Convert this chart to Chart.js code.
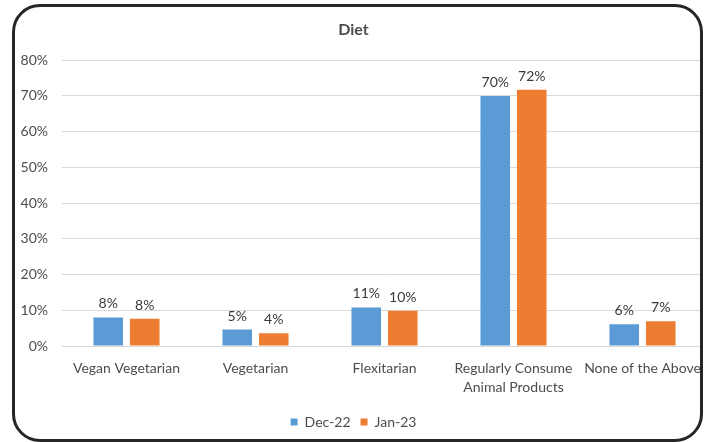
<!DOCTYPE html>
<html>
<head>
<meta charset="utf-8">
<script src="https://cdn.jsdelivr.net/npm/chart.js@4"></script>
<style>
  html, body { margin: 0; padding: 0; background: #fff; }
  #frame {
    position: absolute; left: 12px; top: 4px; width: 691px; height: 438px;
    box-sizing: border-box; border: 3px solid #262626; border-radius: 28px;
    overflow: hidden; background: #fff;
  }
  #dietChart { position: absolute; left: -15px; top: -7px; }
</style>
</head>
<body>
<div id="frame">
  <canvas id="dietChart" width="709" height="442"></canvas>
</div>
<script>
// Diet survey, share of respondents (%)
const categories = ['Vegan Vegetarian', 'Vegetarian', 'Flexitarian', ['Regularly Consume', 'Animal Products'], 'None of the Above'];
const dec22 = [8.0, 4.6, 10.8, 70.0, 6.1];
const jan23 = [7.6, 3.6, 9.9, 71.7, 6.9];
const yTicks = [0, 10, 20, 30, 40, 50, 60, 70, 80];

const fontFamily = 'Lato, "Open Sans", sans-serif';
const textColor = '#4d4d4d';

// draw the value above each bar
const barLabels = {
    id: 'barLabels',
    afterDatasetsDraw(chart) {
        const ctx = chart.ctx;
        ctx.save();
        ctx.font = '14px ' + fontFamily;
        ctx.fillStyle = '#3a3a3a';
        ctx.textAlign = 'center';
        ctx.textBaseline = 'alphabetic';
        chart.data.datasets.forEach((ds, i) => {
            chart.getDatasetMeta(i).data.forEach((bar, j) => {
                ctx.fillText(Math.round(ds.data[j]) + '%', bar.x, bar.y - 9);
            });
        });
        ctx.restore();
    }
};

const ctx = document.getElementById('dietChart').getContext('2d');

const dietChart = new Chart(ctx, {
    type: 'bar',
    data: {
        labels: categories,
        datasets: [{
            label: 'Dec-22',
            data: dec22,
            backgroundColor: '#5B9BD5',
            categoryPercentage: 0.566,
            barPercentage: 0.81
        }, {
            label: 'Jan-23',
            data: jan23,
            backgroundColor: '#ED7D31',
            categoryPercentage: 0.566,
            barPercentage: 0.81
        }]
    },
    options: {
        responsive: false,
        animation: false,
        layout: { padding: { left: 0, right: 2, top: 0, bottom: 3 } },
        plugins: {
            title: {
                display: true,
                text: 'Diet',
                color: textColor,
                font: { family: fontFamily, size: 16, weight: 'bold' },
                padding: { top: 20, bottom: 21 }
            },
            legend: {
                position: 'bottom',
                labels: {
                    color: textColor,
                    font: { family: fontFamily, size: 14 },
                    boxWidth: 7,
                    boxHeight: 7,
                    padding: 10
                }
            },
            tooltip: { enabled: false }
        },
        scales: {
            x: {
                grid: { display: false },
                border: { display: false },
                ticks: {
                    color: textColor,
                    font: { family: fontFamily, size: 14, lineHeight: 1.35 },
                    padding: 5,
                    maxRotation: 0,
                    autoSkip: false
                },
                afterFit(scale) { scale.height = 59; }
            },
            y: {
                min: 0,
                max: 80,
                border: { display: false },
                grid: { color: '#d9d9d9', drawTicks: false },
                afterBuildTicks(scale) { scale.ticks = yTicks.map(v => ({ value: v })); },
                ticks: {
                    color: textColor,
                    font: { family: fontFamily, size: 14 },
                    padding: 14,
                    callback: v => v + '%'
                },
                afterFit(scale) { scale.width = 62; }
            }
        }
    },
    plugins: [barLabels]
});
</script>
</body>
</html>
